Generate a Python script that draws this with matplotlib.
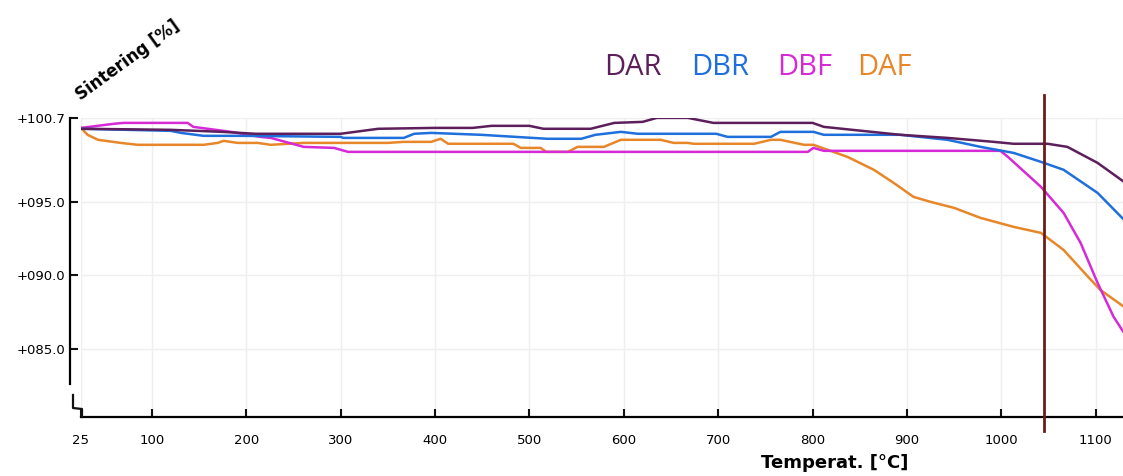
import matplotlib.pyplot as plt
from matplotlib.lines import Line2D

# sintering curves, temperature [°C] vs sintering [%]
dar_t = [25, 120, 175, 210, 300, 340, 400, 440, 460, 500, 515, 565, 590, 620, 635, 668, 695,
         800, 812, 893, 943, 992, 1013, 1049, 1070, 1102, 1130]
dar_v = [99.97, 99.90, 99.76, 99.63, 99.63, 99.97, 100.03, 100.03, 100.17, 100.17, 99.97, 99.97,
         100.37, 100.44, 100.71, 100.71, 100.37, 100.37, 100.10, 99.56, 99.35, 99.08, 98.95,
         98.95, 98.74, 97.65, 96.36]

dbr_t = [25, 120, 131, 155, 197, 300, 303, 367, 378, 396, 449, 519, 555, 570, 597, 615, 698,
         710, 756, 766, 801, 812, 893, 943, 978, 1013, 1042, 1066, 1102, 1130]
dbr_v = [99.97, 99.83, 99.69, 99.49, 99.49, 99.42, 99.35, 99.35, 99.63, 99.69, 99.56, 99.29,
         99.29, 99.56, 99.76, 99.63, 99.63, 99.42, 99.42, 99.76, 99.76, 99.56, 99.56, 99.22,
         98.74, 98.33, 97.72, 97.18, 95.61, 93.78]

dbf_t = [25, 60, 70, 138, 144, 184, 215, 226, 261, 293, 308, 795, 801, 812, 999, 1007, 1042,
         1066, 1084, 1102, 1119, 1130]
dbf_v = [100.03, 100.31, 100.37, 100.37, 100.10, 99.76, 99.42, 99.35, 98.74, 98.67, 98.40,
         98.40, 98.67, 98.47, 98.47, 98.06, 96.02, 94.25, 92.21, 89.49, 87.18, 86.09]

daf_t = [25, 32, 43, 67, 85, 155, 170, 176, 191, 212, 226, 261, 350, 367, 396, 406, 414, 483,
         491, 512, 518, 541, 551, 579, 597, 639, 653, 668, 674, 738, 756, 766, 791, 801, 837,
         865, 886, 907, 925, 950, 978, 1013, 1042, 1066, 1092, 1105, 1130]
daf_v = [100.03, 99.56, 99.22, 99.01, 98.88, 98.88, 99.01, 99.15, 99.01, 99.01, 98.88, 99.01,
         99.01, 99.08, 99.08, 99.29, 98.95, 98.95, 98.67, 98.67, 98.40, 98.40, 98.74, 98.74,
         99.22, 99.22, 99.01, 99.01, 98.95, 98.95, 99.22, 99.22, 98.88, 98.88, 98.06, 97.18,
         96.29, 95.34, 95.00, 94.59, 93.91, 93.30, 92.89, 91.73, 89.90, 89.01, 87.86]

names = ['DAR', 'DBR', 'DBF', 'DAF']
colors = ['#5c1f5c', '#1f6fdc', '#d62ad6', '#e8862a']
x_ticks = [25, 100, 200, 300, 400, 500, 600, 700, 800, 900, 1000, 1100]
y_ticks = [100.7, 95.0, 90.0, 85.0]
y_labels = ['+100.7', '+095.0', '+090.0', '+085.0']
marker_temp = 1045

fig = plt.figure(figsize=(11.23, 4.76), dpi=100)
ax = fig.add_axes([0.0721, 0.124, 0.9288, 0.628])

series = {'DAR': (dar_t, dar_v), 'DBR': (dbr_t, dbr_v), 'DBF': (dbf_t, dbf_v), 'DAF': (daf_t, daf_v)}
for name in ['DAF', 'DBF', 'DBR', 'DAR']:
    t, v = series[name]
    ax.plot(t, v, color=colors[names.index(name)], lw=1.8, zorder=3)

ax.plot([marker_temp, marker_temp], [102.3, 79.4], color='#6b1c1c', lw=2, clip_on=False, zorder=4)

ax.set_xlim(25, 1130)
ax.set_ylim(80.37, 100.7)
ax.set_xticks(x_ticks)
ax.set_yticks(y_ticks)
ax.set_yticklabels(y_labels)
ax.grid(True, color='#efefef', lw=1)
ax.set_axisbelow(True)

for s in ['top', 'right']:
    ax.spines[s].set_visible(False)
ax.spines['left'].set_position(('outward', 8))
ax.spines['left'].set_bounds(82.62, 100.7)
ax.spines['left'].set_linewidth(1.6)
ax.spines['bottom'].set_linewidth(1.6)
ax.tick_params(axis='both', direction='in', length=6, width=1.5, labelsize=9.5, color='#111111')
ax.tick_params(axis='y', pad=3)
ax.tick_params(axis='x', pad=12)

# axis break hook between the y spine and the x axis
hook_x = [73 / 1123, 73 / 1123, 82 / 1123, 82 / 1123]
hook_y = [1 - 395 / 476, 1 - 408 / 476, 1 - 409 / 476, 1 - 417 / 476]
fig.add_artist(Line2D(hook_x, hook_y, color='#111111', lw=1.6, transform=fig.transFigure))

fig.text(835 / 1123, 1 - 463 / 476, 'Temperat. [°C]', ha='center', va='center',
         fontsize=13, fontweight='bold')
fig.text(128 / 1123, 1 - 60 / 476, 'Sintering [%]', ha='center', va='center',
         rotation=36, rotation_mode='anchor', fontsize=12, fontweight='bold')

legend_x = [633, 720, 805, 884]
for name, c, lx in zip(names, colors, legend_x):
    fig.text(lx / 1123, 1 - 68 / 476, name, ha='center', va='center', color=c,
             fontsize=21, family='Open Sans')

fig.savefig('out.png', dpi=100)
